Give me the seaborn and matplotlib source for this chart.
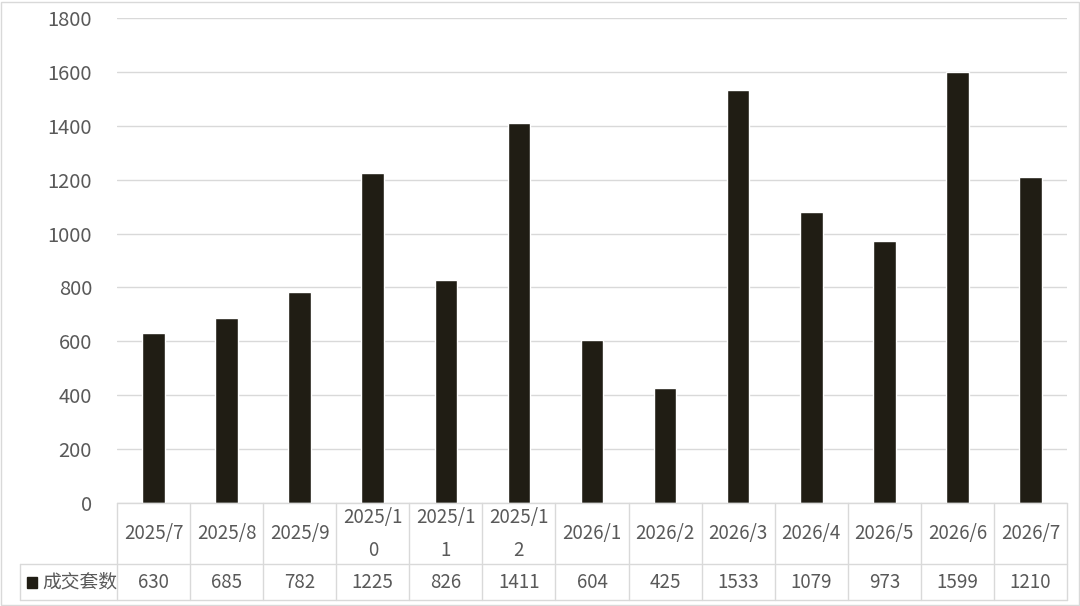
import matplotlib
matplotlib.use('Agg')
import matplotlib.pyplot as plt
import matplotlib.transforms as mtransforms
from matplotlib.lines import Line2D
from matplotlib.patches import Rectangle
import seaborn as sns
import pandas as pd

months = ['2025/7', '2025/8', '2025/9', '2025/10', '2025/11', '2025/12',
          '2026/1', '2026/2', '2026/3', '2026/4', '2026/5', '2026/6', '2026/7']
header_labels = ['2025/7', '2025/8', '2025/9', '2025/1\n0', '2025/1\n1', '2025/1\n2',
                 '2026/1', '2026/2', '2026/3', '2026/4', '2026/5', '2026/6', '2026/7']
deals = [630, 685, 782, 1225, 826, 1411, 604, 425, 1533, 1079, 973, 1599, 1210]
series_name = '成交套数'

sns.set_style('white')
plt.rcParams['font.family'] = ['Noto Sans CJK SC', 'DejaVu Sans']

txt = '#595959'
grid = '#d9d9d9'
bar_col = '#201d14'

df = pd.DataFrame({'month': months, 'deals': deals})

fig = plt.figure(figsize=(10.8, 6.06), dpi=100)
ax = fig.add_axes([117 / 1080, 1 - 503 / 606, 950 / 1080, 485 / 606])
sns.barplot(data=df, x='month', y='deals', order=months, color=bar_col,
            saturation=1, width=0.31, ax=ax)

ax.set_xlim(-0.5, len(months) - 0.5)
ax.set_ylim(0, 1800)
ax.set_yticks(range(0, 1801, 200))
ax.yaxis.grid(True, color=grid, linewidth=1)
ax.set_axisbelow(True)
for s in ax.spines.values():
    s.set_visible(False)
ax.set_xticks([])
ax.set_xlabel('')
ax.set_ylabel('')
ax.tick_params(axis='y', length=0, pad=18, labelsize=14.5, labelcolor=txt)

# data table under the plot
trans = mtransforms.blended_transform_factory(ax.transData, ax.transAxes)
y_head = -61 / 485
y_val = -97 / 485
x_leg = -97 / 950
lw = 1
for i in range(len(months) + 1):
    ax.add_line(Line2D([i - 0.5, i - 0.5], [0, y_val], transform=trans,
                       color=grid, lw=lw, clip_on=False))
ax.add_line(Line2D([0, 1], [0, 0], transform=ax.transAxes, color=grid, lw=lw, clip_on=False))
ax.add_line(Line2D([x_leg, 1], [y_head, y_head], transform=ax.transAxes,
                   color=grid, lw=lw, clip_on=False))
ax.add_line(Line2D([x_leg, 1], [y_val, y_val], transform=ax.transAxes,
                   color=grid, lw=lw, clip_on=False))
ax.add_line(Line2D([x_leg, x_leg], [y_head, y_val], transform=ax.transAxes,
                   color=grid, lw=lw, clip_on=False))

for i, (lab, v) in enumerate(zip(header_labels, deals)):
    ax.text(i, y_head / 2, lab, transform=trans, ha='center', va='center',
            fontsize=13.5, color=txt, linespacing=1.75)
    ax.text(i, (y_head + y_val) / 2, str(v), transform=trans, ha='center',
            va='center', fontsize=13.5, color=txt)

ax.add_patch(Rectangle((x_leg + 7 / 950, (y_head + y_val) / 2 - 6 / 485), 10 / 950, 11 / 485,
                       transform=ax.transAxes, color=bar_col, clip_on=False))
ax.text(x_leg + 22 / 950, (y_head + y_val) / 2, series_name, transform=ax.transAxes,
        ha='left', va='center', fontsize=13.5, color=txt)

fig.add_artist(Rectangle((1 / 1080, 1 / 606), 1078 / 1080, 603 / 606,
                         transform=fig.transFigure, fill=False, edgecolor=grid, lw=1))

fig.savefig('out.png', dpi=100)
